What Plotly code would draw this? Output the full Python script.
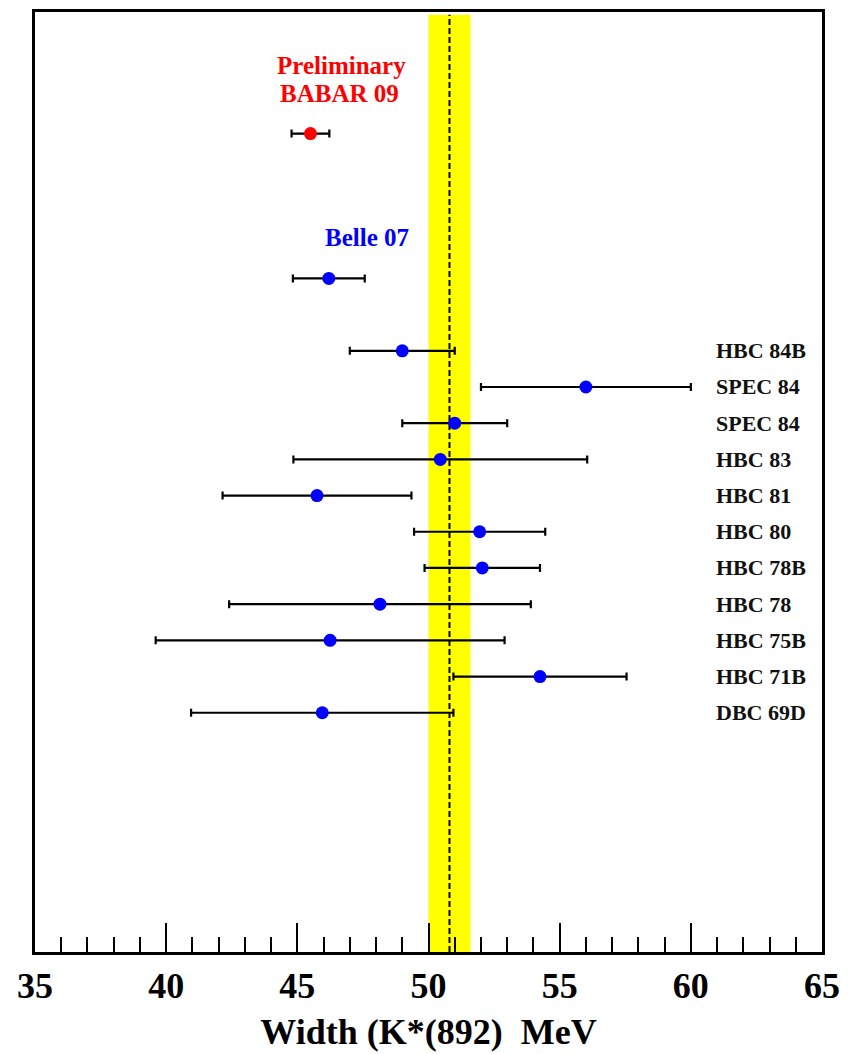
import plotly.graph_objects as go

# ---- data ----
experiments = ["Preliminary<br>BABAR 09", "Belle 07", "HBC 84B", "SPEC 84", "SPEC 84", "HBC 83",
               "HBC 81", "HBC 80", "HBC 78B", "HBC 78", "HBC 75B", "HBC 71B", "DBC 69D"]
row = [17, 13, 11, 10, 9, 8, 7, 6, 5, 4, 3, 2, 1]
width = [45.5, 46.2, 49.0, 56.0, 51.0, 50.45, 45.75, 51.95, 52.05, 48.15, 46.25, 54.25, 45.95]
error = [0.72, 1.37, 2.0, 4.0, 2.0, 5.6, 3.6, 2.5, 2.2, 5.75, 6.65, 3.3, 5.0]
pdg_mean = 50.8
pdg_err = 0.8
x_ticks = [35, 40, 45, 50, 55, 60, 65]

fig = go.Figure()

# PDG band + mean line
fig.add_shape(type="rect", xref="x", yref="paper", x0=pdg_mean - pdg_err, x1=pdg_mean + pdg_err,
              y0=0, y1=0.997, fillcolor="#ffff00", line=dict(width=0), layer="below")
fig.add_shape(type="line", xref="x", yref="paper", x0=pdg_mean, x1=pdg_mean, y0=0, y1=0.997,
              line=dict(color="black", width=2, dash="6px,3px"), layer="below")

colors = ["#ff0000"] + ["#0000ff"] * (len(width) - 1)
fig.add_trace(go.Scatter(
    x=width, y=row, mode="markers",
    marker=dict(color=colors, size=13, line=dict(width=0)),
    error_x=dict(type="data", array=error, color="black", thickness=2.2, width=4),
    showlegend=False, hoverinfo="skip"))

serif = "Liberation Serif"
# right-hand labels for the older measurements
for name, y in zip(experiments[2:], row[2:]):
    fig.add_annotation(x=60.9, y=y, text="<b>%s</b>" % name, showarrow=False, xanchor="left",
                       yanchor="middle", font=dict(family=serif, size=22, color="#111111"))

line1, line2 = experiments[0].split("<br>")
fig.add_annotation(x=46.67, y=18.88, text="<b>" + line1 + "</b>", showarrow=False,
                   xanchor="center", yanchor="middle", borderpad=0,
                   font=dict(family=serif, size=25, color="#ff0000"))
fig.add_annotation(x=46.6, y=18.1, text="<b>" + line2 + "</b>", showarrow=False,
                   xanchor="center", yanchor="middle", borderpad=0,
                   font=dict(family=serif, size=25, color="#ff0000"))
fig.add_annotation(x=47.66, y=14.12, text="<b>" + experiments[1] + "</b>", showarrow=False,
                   xanchor="center", yanchor="middle",
                   font=dict(family=serif, size=25, color="#0000ff"))

fig.update_layout(
    width=852, height=1054,
    margin=dict(l=35, r=30, t=9, b=102),
    paper_bgcolor="white", plot_bgcolor="white",
    xaxis=dict(range=[35, 65], tickvals=x_ticks, ticktext=[str(t) for t in x_ticks],
               ticks="inside", ticklen=29, tickwidth=1.5, tickcolor="black",
               minor=dict(dtick=1, tick0=35, ticks="inside", ticklen=15, tickwidth=1.5,
                          tickcolor="black", showgrid=False),
               showgrid=False, zeroline=False, showline=True, linecolor="black", linewidth=2.5,
               mirror=True,
               tickfont=dict(family=serif, size=36, color="black", weight="bold"),
               title=dict(text="<b>Width (K*(892)\u00a0\u00a0MeV</b>",
                          font=dict(family=serif, size=36, color="black"), standoff=14)),
    yaxis=dict(range=[-5.61, 20.36], showticklabels=False, ticks="", showgrid=False,
               zeroline=False, showline=True, linecolor="black", linewidth=2.5, mirror=True),
)

fig.write_html("out.html")
